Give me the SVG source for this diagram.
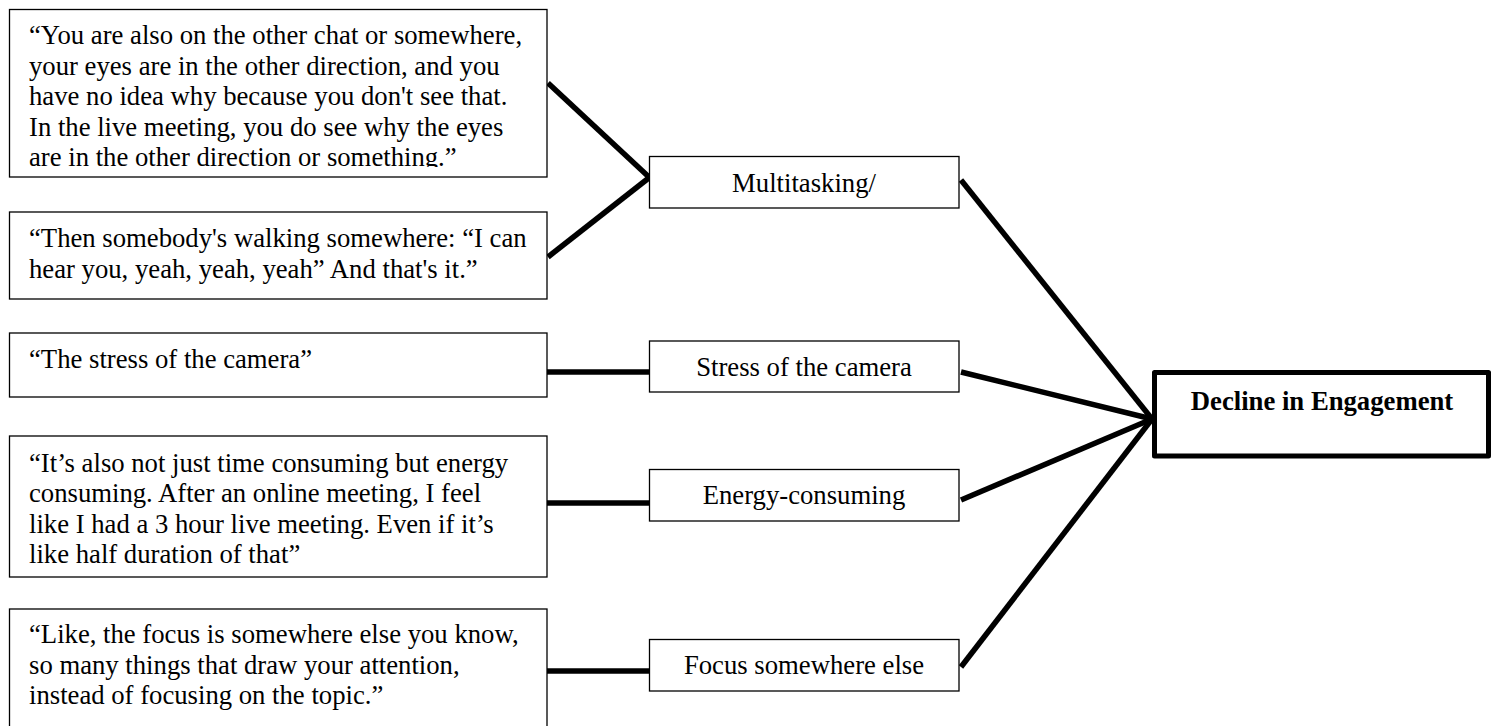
<svg xmlns="http://www.w3.org/2000/svg" width="1494" height="726" viewBox="0 0 1494 726">
<style>
  .q { fill: #fff; stroke: #000; stroke-width: 1.3; }
  .m { fill: #fff; stroke: #000; stroke-width: 1.3; }
  .d { fill: #fff; stroke: #000; stroke-width: 5; stroke-linejoin: round; }
  .t { font-family: "Liberation Serif", "Times New Roman", serif; font-size: 26.7px; fill: #000; }
  .c { text-anchor: middle; }
  .b { font-weight: bold; }
  .conn line { stroke: #000; stroke-width: 5.5; stroke-linecap: butt; }
</style>
<defs>
  <clipPath id="clip1"><rect x="9" y="9" width="538" height="158"/></clipPath>
</defs>
<rect width="1494" height="726" fill="#fff"/>

<g class="conn" id="connectors">
  <line x1="548" y1="83" x2="650" y2="178"/>
  <line x1="548" y1="257" x2="650" y2="177"/>
  <line x1="547" y1="372" x2="649" y2="372"/>
  <line x1="547" y1="503" x2="649" y2="503"/>
  <line x1="547" y1="671" x2="649" y2="671"/>
  <line x1="961" y1="180" x2="1152" y2="419"/>
  <line x1="961" y1="372" x2="1152" y2="419"/>
  <line x1="961" y1="500" x2="1152" y2="419"/>
  <line x1="961" y1="667" x2="1152" y2="419"/>
</g>

<g id="quote1">
  <rect class="q" x="9.5" y="9.5" width="537.5" height="167.5"/>
  <g clip-path="url(#clip1)">
    <text class="t" x="29" y="44">“You are also on the other chat or somewhere,</text>
    <text class="t" x="29" y="74.5">your eyes are in the other direction, and you</text>
    <text class="t" x="29" y="105">have no idea why because you don't see that.</text>
    <text class="t" x="29" y="135.5">In the live meeting, you do see why the eyes</text>
    <text class="t" x="29" y="166">are in the other direction or something.”</text>
  </g>
</g>

<g id="quote2">
  <rect class="q" x="9.5" y="212" width="537.5" height="87"/>
  <text class="t" x="29" y="247">“Then somebody's walking somewhere: “I can</text>
  <text class="t" x="29" y="277.5">hear you, yeah, yeah, yeah” And that's it.”</text>
</g>

<g id="quote3">
  <rect class="q" x="9.5" y="333" width="537.5" height="64"/>
  <text class="t" x="29" y="368">“The stress of the camera”</text>
</g>

<g id="quote4">
  <rect class="q" x="9.5" y="436" width="537.5" height="141"/>
  <text class="t" x="29" y="472">“It’s also not just time consuming but energy</text>
  <text class="t" x="29" y="502.3">consuming. After an online meeting, I feel</text>
  <text class="t" x="29" y="532.7">like I had a 3 hour live meeting. Even if it’s</text>
  <text class="t" x="29" y="563">like half duration of that”</text>
</g>

<g id="quote5">
  <rect class="q" x="9.5" y="609" width="537.5" height="130"/>
  <text class="t" x="29" y="643">“Like, the focus is somewhere else you know,</text>
  <text class="t" x="29" y="673.5">so many things that draw your attention,</text>
  <text class="t" x="29" y="704">instead of focusing on the topic.”</text>
</g>

<g id="multitasking">
  <rect class="m" x="649.5" y="156.5" width="309.5" height="51.5"/>
  <text class="t c" x="804" y="192">Multitasking/</text>
</g>

<g id="stress">
  <rect class="m" x="649.5" y="341" width="309.5" height="51"/>
  <text class="t c" x="804" y="376">Stress of the camera</text>
</g>

<g id="energy">
  <rect class="m" x="649.5" y="469.5" width="309.5" height="51.5"/>
  <text class="t c" x="804" y="504">Energy-consuming</text>
</g>

<g id="focus">
  <rect class="m" x="649.5" y="639.5" width="309.5" height="51.5"/>
  <text class="t c" x="804" y="674">Focus somewhere else</text>
</g>

<g id="decline">
  <rect class="d" x="1154.5" y="372.5" width="334" height="83.5"/>
  <text class="t c b" x="1322" y="410">Decline in Engagement</text>
</g>
</svg>
